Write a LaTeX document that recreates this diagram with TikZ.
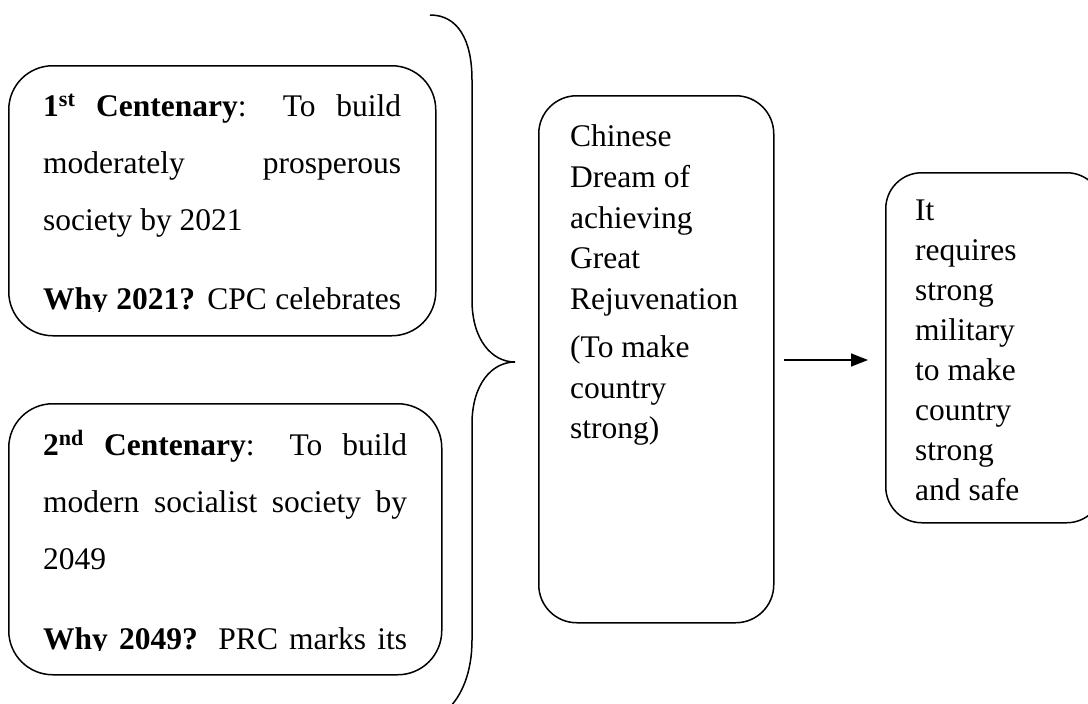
\documentclass[tikz,border=0pt]{standalone}
\usepackage{fontspec}
\setmainfont{Liberation Serif}
\usetikzlibrary{arrows.meta}
\tikzset{
  rbox/.style={draw, line width=1.5pt, rectangle, inner sep=0pt, anchor=north west},
  txt/.style={inner sep=0pt, anchor=base west},
  arr/.style={line width=1.5pt, -{Triangle[length=17pt,width=13pt]}},
  bracestyle/.style={line width=1.5pt}
}
\begin{document}
\begin{tikzpicture}[x=1pt,y=-1pt]
\useasboundingbox (0,0) rectangle (1088,704);
\clip (0,0) rectangle (1088,704);
% boxes
\node[rbox, rounded corners=44pt, minimum width=427pt, minimum height=270pt] (b1) at (8,65) {};
\node[rbox, rounded corners=44pt, minimum width=433pt, minimum height=271pt] (b2) at (8,403) {};
\node[rbox, rounded corners=38pt, minimum width=235pt, minimum height=527pt] (b3) at (538,95) {};
\node[rbox, rounded corners=36pt, minimum width=217pt, minimum height=350pt] (b4) at (885,172) {};
% texts of the left boxes (clipped at the last visible line)
\begin{scope}
\clip (8,65) rectangle (435,311);
\node[txt] (t1) at (43,116) {\parbox[t]{358pt}{\fontsize{31.5}{57}\selectfont
\makebox[\linewidth][s]{\textbf{1\textsuperscript{st} Centenary}: To build}\\
\makebox[\linewidth][s]{moderately prosperous}\\
society by 2021\\[23pt]
\makebox[\linewidth][s]{\textbf{Why 2021?} CPC celebrates}}};
\end{scope}
\begin{scope}
\clip (8,403) rectangle (441,650);
\node[txt] (t2) at (43,455) {\parbox[t]{364pt}{\fontsize{31.5}{57}\selectfont
\makebox[\linewidth][s]{\textbf{2\textsuperscript{nd} Centenary}: To build}\\
\makebox[\linewidth][s]{modern socialist society by}\\
2049\\[23pt]
\makebox[\linewidth][s]{\textbf{Why 2049?} PRC marks its}}};
\end{scope}
% middle box text
\node[txt] (t3) at (570,146) {\parbox[t]{200pt}{\fontsize{31.5}{41}\selectfont\raggedright
Chinese\\ Dream of\\ achieving\\ Great\\ Rejuvenation\\[6pt] (To make\\ country\\ strong)}};
% right box text
\node[txt] (t4) at (915,220) {\parbox[t]{170pt}{\fontsize{31.5}{40}\selectfont\raggedright
It\\ requires\\ strong\\ military\\ to make\\ country\\ strong\\ and safe}};
% brace
\draw[bracestyle] (430,15) .. controls (458,15) and (472,40) .. (472,80)
  -- (472,300) .. controls (472,340) and (492,362) .. (515,362)
  .. controls (492,362) and (472,384) .. (472,424)
  -- (472,640) .. controls (472,672) and (462,696) .. (447,710);
% arrow
\coordinate (as) at (784,360);
\coordinate (ae) at (868,360);
\draw[arr] (as) -- (ae);
\end{tikzpicture}
\end{document}
